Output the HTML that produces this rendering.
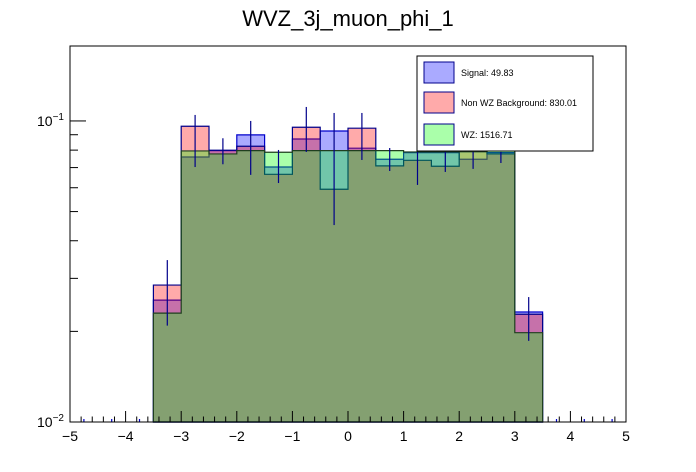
<!DOCTYPE html>
<html><head><meta charset="utf-8"><style>
body{margin:0;background:#fff;}
svg{display:block;font-family:"Liberation Sans",sans-serif;}
</style></head><body>
<svg id="c" width="696" height="472">
<rect x="0" y="0" width="696" height="472" fill="#fff"/>
<text x="348" y="26" font-size="22" text-anchor="middle">WVZ_3j_muon_phi_1</text>
<g id="plot"></g>
<g>
<rect x="417" y="56" width="176" height="95" fill="#fff" stroke="#000" stroke-width="1"/>
<g><rect x="424" y="62" width="30" height="21" fill="#aaaaff" stroke="#00008b"/><text x="461" y="76" font-size="9">Signal: 49.83</text></g>
<g><rect x="424" y="92" width="30" height="21" fill="#ffaaaa" stroke="#00008b"/><text x="461" y="106" font-size="9">Non WZ Background: 830.01</text></g>
<g><rect x="424" y="124" width="30" height="21" fill="#aaffaa" stroke="#00008b"/><text x="461" y="138" font-size="9">WZ: 1516.71</text></g>
</g>
</svg>
<script>
const binEdges = [-3.5,-3,-2.5,-2,-1.5,-1,-0.5,0,0.5,1,1.5,2,2.5,3,3.5];
const signal = [0.0254,0.0759,0.0797,0.0899,0.0703,0.0871,0.0926,0.0812,0.0746,0.0785,0.0785,0.0746,0.0785,0.0232];
const nonWZ = [0.0285,0.0960,0.0799,0.0824,0.0665,0.0953,0.0593,0.0946,0.0709,0.0740,0.0707,0.0791,0.0777,0.0228];
const wz = [0.0230,0.0795,0.0777,0.0797,0.0787,0.0797,0.0797,0.0797,0.0797,0.0789,0.0789,0.0791,0.0797,0.0198];
const errHi = [0.0345,0.1047,0.0876,0.1000,0.0801,0.1113,0.1063,0.1063,0.0813,0.0789,0.0789,0.0789,0.0789,0.0260];
const errLo = [0.0209,0.0703,0.0718,0.0662,0.0622,0.0789,0.0451,0.0742,0.0682,0.0613,0.0677,0.0693,0.0725,0.0186];
const xTicks = [-5,-4,-3,-2,-1,0,1,2,3,4,5];
const yTicks = [0.1,0.01];
const yTickExp = ['1','2'];
const emptyBins = [-4.75,-4.25,-3.75,3.75,4.25,4.75];

const X0=70,X1=626,Y0=46,Y1=422;
const yMin=0.01,yMax=0.1774;
function xs(v){return X0+(v+5)/10*(X1-X0);}
function ys(v){return Y1-(Math.log10(v)-Math.log10(yMin))/(Math.log10(yMax)-Math.log10(yMin))*(Y1-Y0);}
const NS="http://www.w3.org/2000/svg";
const g=document.getElementById('plot');
function mk(t,a,p){const e=document.createElementNS(NS,t);for(const k in a)e.setAttribute(k,a[k]);(p||g).appendChild(e);return e;}

function hist(vals,fill,stroke,name){
  let d="M"+xs(binEdges[0])+","+Y1;
  vals.forEach((v,i)=>{d+=" L"+xs(binEdges[i])+","+ys(v)+" L"+xs(binEdges[i+1])+","+ys(v);});
  d+=" L"+xs(binEdges[binEdges.length-1])+","+Y1+" Z";
  const p=mk('path',{d:d,fill:fill,'fill-opacity':0.333,stroke:stroke,'stroke-width':1.2});
  
  
}
hist(signal,'#0000ff','#0000cc','signal-histogram');
hist(nonWZ,'#ff0000','#00008b','non-wz-histogram');
hist(wz,'#00ff00','#1f3f1f','wz-histogram');

signal.forEach((v,i)=>{
  const cx=xs((binEdges[i]+binEdges[i+1])/2);
  const l=mk('line',{x1:cx,x2:cx,y1:ys(errHi[i]),y2:ys(errLo[i]),stroke:'#00008b','stroke-width':1.2});
  
  
});
emptyBins.forEach(c=>{
  const l=mk('line',{x1:xs(c),x2:xs(c),y1:Y1-3,y2:Y1,stroke:'#0000cc','stroke-width':1.2});
  
  
});

const fr=mk('rect',{x:X0,y:Y0,width:X1-X0,height:Y1-Y0,fill:'none',stroke:'#000','stroke-width':1});



for(let v=-5;v<=5.001;v+=0.2){
  const r=Math.round(v*10)/10;const maj=Math.abs(r-Math.round(r))<1e-6;
  mk('line',{x1:xs(r),x2:xs(r),y1:Y1,y2:Y1-(maj?11:5.5),stroke:'#000','stroke-width':1});
}
xTicks.forEach(t=>{
  const tx=mk('text',{x:xs(t),y:Y1+19,'font-size':14,'text-anchor':'middle'});
  tx.textContent=(t<0?'\u2212'+(-t):''+t);
  
  
});
yTicks.forEach(v=>mk('line',{x1:X0,x2:X0+16,y1:ys(v),y2:ys(v),stroke:'#000','stroke-width':1}));
[0.02,0.03,0.04,0.05,0.06,0.07,0.08,0.09].forEach(v=>mk('line',{x1:X0,x2:X0+8,y1:ys(v),y2:ys(v),stroke:'#000','stroke-width':1}));
yTicks.forEach((v,i)=>{
  const tx=mk('text',{x:X0-6,y:ys(v)+5,'font-size':14,'text-anchor':'end'});
  tx.innerHTML='10<tspan dy="-6" font-size="10">\u2212'+yTickExp[i]+'</tspan>';
  
  
});
</script>
</body></html>
